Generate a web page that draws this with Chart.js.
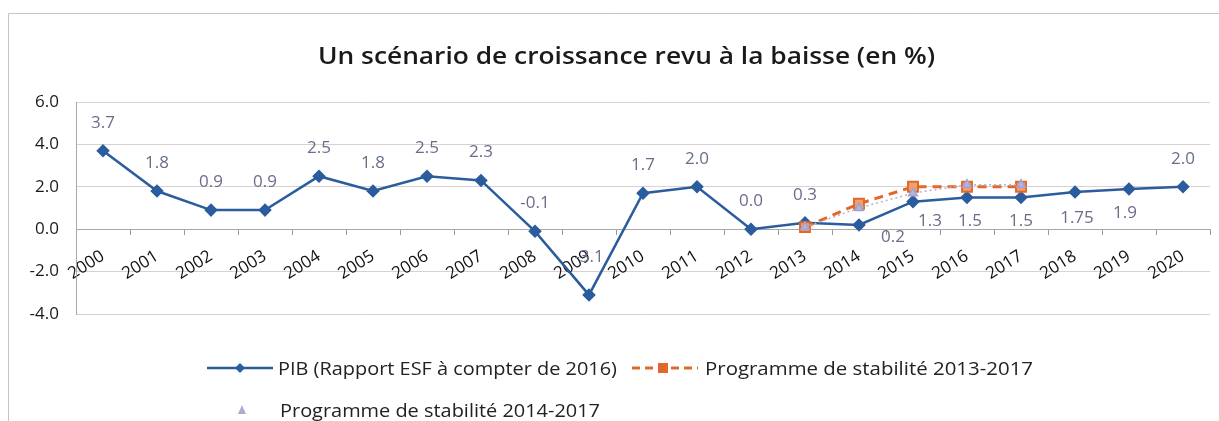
<!DOCTYPE html>
<html>
<head>
<meta charset="utf-8">
<script src="https://cdn.jsdelivr.net/npm/chart.js@4"></script>
<style>
  html, body { margin: 0; padding: 0; background: #fff; }
  #wrap { position: relative; width: 1219px; height: 421px; overflow: hidden; }
  #c { position: absolute; left: 0; top: 0; }
  .leg { position: absolute; font-family: 'Open Sans', sans-serif; font-size: 18px; color: #222; white-space: nowrap; line-height: 22px; }
  .leg svg { position: absolute; }
  .leg span { position: absolute; top: 0; transform-origin: 0 50%; display: inline-block; }
</style>
</head>
<body>
<div id="wrap">
  <canvas id="c" width="1219" height="421"></canvas>
  <div class="leg" style="left:207px; top:357px;">
    <svg width="66" height="22" style="left:0;top:0"><line x1="0" y1="11" x2="66" y2="11" stroke="#2a5c9e" stroke-width="2.5"/><polygon points="33,6 38,11 33,16 28,11" fill="#2a5c9e"/></svg>
    <span data-w="339" style="left:71px">PIB (Rapport ESF à compter de 2016)</span>
  </div>
  <div class="leg" style="left:632px; top:357px;">
    <svg width="66" height="22" style="left:0;top:0"><line x1="0" y1="11" x2="66" y2="11" stroke="#e2682a" stroke-width="3" stroke-dasharray="8,5"/><rect x="26" y="6" width="10" height="10" fill="#e2682a"/></svg>
    <span data-w="328" style="left:73px">Programme de stabilité 2013-2017</span>
  </div>
  <div class="leg" style="left:232px; top:399px;">
    <svg width="20" height="22" style="left:0;top:0"><polygon points="10,6 14,15 6,15" fill="#b6a6d8"/></svg>
    <span data-w="320" style="left:48px">Programme de stabilité 2014-2017</span>
  </div>
</div>
<script>
const categories = ['2000','2001','2002','2003','2004','2005','2006','2007','2008','2009','2010','2011','2012','2013','2014','2015','2016','2017','2018','2019','2020'];
const pib = [3.7, 1.8, 0.9, 0.9, 2.5, 1.8, 2.5, 2.3, -0.1, -3.1, 1.7, 2.0, 0.0, 0.3, 0.2, 1.3, 1.5, 1.5, 1.75, 1.9, 2.0];
const ps2013 = [null,null,null,null,null,null,null,null,null,null,null,null,null, 0.1, 1.2, 2.0, 2.0, 2.0, null, null, null];
const ps2014 = [null,null,null,null,null,null,null,null,null,null,null,null,null, 0.1, 1.0, 1.7, 2.1, 2.1, null, null, null];
const yTicks = [-4, -2, 0, 2, 4, 6];
const titleText = 'Un scénario de croissance revu à la baisse (en %)';

document.querySelectorAll('.leg span').forEach(s => {
  const w = s.getBoundingClientRect().width;
  const target = Number(s.dataset.w);
  if (w > 0) s.style.transform = 'scaleX(' + (target / w) + ')';
});

const framePlugin = {
  id: 'frame',
  beforeDraw(chart) {
    const ctx = chart.ctx;
    ctx.save();
    ctx.strokeStyle = '#c4c4c4';
    ctx.lineWidth = 1;
    ctx.beginPath();
    ctx.moveTo(8.5, 421);
    ctx.lineTo(8.5, 13.5);
    ctx.lineTo(1219, 13.5);
    ctx.stroke();
    ctx.fillStyle = '#1a1a1a';
    ctx.font = '600 23px "Open Sans", sans-serif';
    ctx.textBaseline = 'middle';
    const w = ctx.measureText(titleText).width;
    const sx = 617 / w;
    ctx.translate(318, 57);
    ctx.scale(sx, 1);
    ctx.textAlign = 'left';
    ctx.fillText(titleText, 0, 0);
    ctx.restore();
  }
};

const labelPlugin = {
  id: 'pibLabels',
  afterDatasetsDraw(chart) {
    const ctx = chart.ctx;
    const meta = chart.getDatasetMeta(0);
    const place = {16: [3, 24], 17: [0, 24], 18: [2, 26], 19: [-4, 24], 14: [34, 12], 15: [17, 20], 9: [0, -38]};
    ctx.save();
    ctx.font = '17px "Open Sans", sans-serif';
    ctx.fillStyle = '#6c6c8a';
    ctx.textAlign = 'center';
    ctx.textBaseline = 'middle';
    meta.data.forEach((pt, i) => {
      const v = pib[i];
      const txt = Number.isInteger(Math.round(v * 100) / 10) ? v.toFixed(1) : String(v);
      const off = place[i] || [0, -28];
      ctx.fillText(txt, pt.x + off[0], pt.y + off[1]);
    });
    ctx.restore();
  }
};

new Chart(document.getElementById('c'), {
  type: 'line',
  data: {
    labels: categories,
    datasets: [
      {
        label: 'PIB (Rapport ESF à compter de 2016)',
        data: pib,
        borderColor: '#2a5c9e',
        backgroundColor: '#2a5c9e',
        borderWidth: 2.5,
        pointStyle: 'rectRot',
        pointRadius: 5,
        pointHoverRadius: 5,
        tension: 0,
        order: 3
      },
      {
        label: 'Programme de stabilité 2013-2017',
        data: ps2013,
        borderColor: '#e2682a',
        backgroundColor: '#f0a070',
        borderWidth: 3,
        borderDash: [9, 6],
        pointStyle: 'rect',
        pointRadius: 7,
        pointHoverRadius: 7,
        pointBorderWidth: 2,
        pointBorderColor: '#e2682a',
        order: 2
      },
      {
        label: 'Programme de stabilité 2014-2017',
        data: ps2014,
        borderColor: '#b8b0d0',
        backgroundColor: '#b0b4e0',
        borderWidth: 1.5,
        borderDash: [2, 3],
        pointStyle: 'triangle',
        pointRadius: 5,
        pointHoverRadius: 5,
        pointBorderColor: '#a8a0cc',
        order: 1
      }
    ]
  },
  options: {
    responsive: false,
    animation: false,
    layout: { padding: { left: 0, right: 9, top: 102, bottom: 107 } },
    plugins: {
      legend: { display: false },
      title: { display: false },
      tooltip: { enabled: false }
    },
    scales: {
      x: {
        type: 'category',
        position: { y: 0 },
        offset: true,
        afterFit(scale) { scale.height = 0; },
        grid: { display: true, drawOnChartArea: false, drawTicks: true, tickLength: 5, color: '#9a9a9a', offset: true },
        border: { display: true, color: '#a8a8a8', width: 1 },
        ticks: {
          autoSkip: false,
          maxRotation: 32,
          minRotation: 32,
          padding: 12,
          color: '#111',
          font: { family: '"Open Sans", sans-serif', size: 17, weight: '500' }
        }
      },
      y: {
        min: -4,
        max: 6,
        afterFit(scale) { scale.width = 76; },
        afterBuildTicks(scale) { scale.ticks = yTicks.map(v => ({ value: v })); },
        grid: { color: '#dccfd3', lineWidth: 1, drawTicks: false },
        border: { display: true, color: '#a8a8a8', width: 1 },
        ticks: {
          padding: 17,
          color: '#1a1a1a',
          font: { family: '"Open Sans", sans-serif', size: 17 },
          callback: v => Number(v).toFixed(1)
        }
      }
    }
  },
  plugins: [framePlugin, labelPlugin]
});
</script>
</body>
</html>
